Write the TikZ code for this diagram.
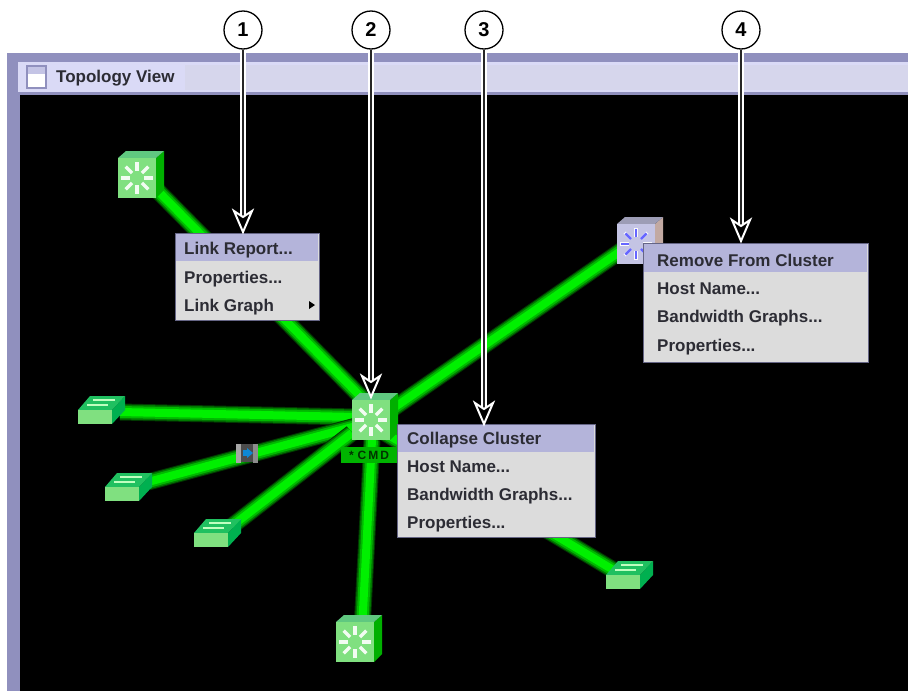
\documentclass[tikz,border=0pt]{standalone}
\usepackage{fontspec}
\setmainfont{Liberation Sans}
\definecolor{frameC}{HTML}{9090BE}
\definecolor{titleC}{HTML}{DADAF6}
\definecolor{ditherC}{HTML}{D6D6EC}
\definecolor{hiC}{HTML}{B4B4DA}
\definecolor{menuC}{HTML}{DCDCDC}
\definecolor{textC}{HTML}{2C2C34}
\definecolor{faceC}{HTML}{80E080}
\definecolor{sideC}{HTML}{00B000}
\definecolor{topC}{HTML}{60C880}
\definecolor{topS}{HTML}{20C060}
\definecolor{sideS}{HTML}{00B050}
\definecolor{linkA}{HTML}{003800}
\definecolor{linkB}{HTML}{007800}
\definecolor{linkD}{HTML}{00B800}
\definecolor{linkC}{HTML}{00F000}
\definecolor{cmdC}{HTML}{00B400}
\definecolor{purpC}{HTML}{C4C4E4}
\tikzset{
  x=1pt,y=-1pt,
  link/.style={line width=8pt,color=linkC,
    preaction={draw,line width=17pt,color=linkA},
    preaction={draw,line width=15pt,color=linkB},
    preaction={draw,line width=12pt,color=linkD}},
  badge/.style={circle,draw=black,line width=1.3pt,fill=white,minimum size=38pt,inner sep=0pt,font=\fontsize{20}{20}\selectfont\bfseries},
  shaftO/.style={line width=6pt,color=white},
  shaftI/.style={line width=2pt,color=black!85},
  tipS/.style={draw=white,fill=black,line width=2pt,line join=miter},
  menubox/.style={fill=menuC,draw=frameC!70!black,line width=.8pt},
  hibar/.style={fill=hiC},
  menuitem/.style={anchor=base west,inner sep=0pt,text=textC,font=\fontsize{17}{17}\selectfont\bfseries},
  pics/bigswitch/.style args={#1/#2/#3}{code={
    \fill[#2] (38,0)--(46,-7)--(46,32)--(38,40)--cycle;
    \fill[#3] (0,0)--(8,-7)--(46,-7)--(38,0)--cycle;
    \fill[#1] (0,0) rectangle (38,40);
    \foreach \a in {0,45,...,315}{
      \draw[white!90!#1,line width=3.5pt] (19,20)++(\a:7)--++(\a:9);}
  }},
  pics/smallswitch/.style={code={
    \fill[sideS] (34,0)--(47,-14)--(47,0)--(34,14)--cycle;
    \fill[topS] (0,0)--(12,-14)--(47,-14)--(34,0)--cycle;
    \fill[faceC] (0,0) rectangle (34,14);
    \draw[white!75!green,line width=1.4pt] (15,-10)--(37,-10) (9,-5)--(30,-5);
  }}
}
\begin{document}
\begin{tikzpicture}
\useasboundingbox (0,0) rectangle (908,691);
\fill[white] (0,0) rectangle (908,691);
% window
\fill[frameC] (7,53) rectangle (908,691);
\fill[titleC] (18,62) rectangle (908,92);
\fill[ditherC] (185,65) rectangle (908,90);
\fill[black] (20,95) rectangle (908,691);
% title
\fill[white] (27,66) rectangle (46,88);
\draw[frameC,line width=1.5pt] (27,66) rectangle (46,88);
\fill[titleC!70!frameC] (28,67) rectangle (45,74);
\node[anchor=base west,inner sep=0pt,text=textC,font=\fontsize{17}{17}\selectfont\bfseries] (title) at (56,82) {Topology View};
% named positions
\coordinate (hubTL) at (362,398);
\coordinate (hubPU) at (385,414);
\coordinate (hubW1) at (356,417);
\coordinate (hubW2) at (356,426);
\coordinate (hubW3) at (352,433);
\coordinate (hubW4) at (380,430);
\coordinate (hubBT) at (372,440);
\coordinate (nodeTL) at (153,186);
\coordinate (nodePU) at (625,248);
\coordinate (nodeW1) at (120,412);
\coordinate (nodeW2) at (148,482);
\coordinate (nodeW3) at (232,526);
\coordinate (nodeW4) at (630,580);
\coordinate (nodeBT) at (362,630);
% links
\draw[link] (nodeTL)--(hubTL);
\draw[link] (nodePU)--(hubPU);
\draw[link] (nodeW1)--(hubW1);
\draw[link] (nodeW2)--(hubW2);
\draw[link] (nodeW3)--(hubW3);
\draw[link] (nodeW4)--(hubW4);
\draw[link] (nodeBT)--(hubBT);
% link interface
\fill[black!70] (241,444) rectangle (254,462);
\fill[black!35] (236,444) rectangle (241,463);
\fill[black!45] (253,444) rectangle (258,463);
\fill[cyan!70!blue] (243,450) rectangle (248,456);
\fill[cyan!70!blue] (247,448)--(253,453)--(247,458)--cycle;
% icons
\pic at (118,158) {bigswitch={faceC/sideC/topC}};
\pic at (352,400) {bigswitch={faceC/sideC/topC}};
\pic at (336,622) {bigswitch={faceC/sideC/topC}};
\pic at (617,224) {bigswitch={purpC/purpC!60!brown/purpC!80!black}};
\foreach \a in {0,45,...,315}{\draw[blue!60!white,line width=2.5pt] (636,244)++(\a:7)--++(\a:8);}
\pic at (78,410) {smallswitch};
\pic at (105,487) {smallswitch};
\pic at (194,533) {smallswitch};
\pic at (606,575) {smallswitch};
% CMD label
\node[fill=cmdC,minimum width=56pt,minimum height=16pt,inner sep=0pt,text=black!80!green,font=\fontsize{12}{12}\selectfont\bfseries] (cmd) at (369,455) {*\,\,C\,M\,D};
% menus
\fill[menubox] (175,233) rectangle (319,320);
\fill[hibar] (176,234) rectangle (318,261);
\node[menuitem] at (184,254) {Link Report...};
\node[menuitem] at (184,283) {Properties...};
\node[menuitem] at (184,311) {Link Graph};
\fill[black] (309,301)--(315,305)--(309,309)--cycle;
\fill[menubox] (397,424) rectangle (595,537);
\fill[hibar] (398,425) rectangle (594,452);
\node[menuitem] at (407,444) {Collapse Cluster};
\node[menuitem] at (407,472) {Host Name...};
\node[menuitem] at (407,500) {Bandwidth Graphs...};
\node[menuitem] at (407,528) {Properties...};
\fill[menubox] (643,243) rectangle (868,362);
\fill[hibar] (644,244) rectangle (867,272);
\node[menuitem] at (657,266) {Remove From Cluster};
\node[menuitem] at (657,294) {Host Name...};
\node[menuitem] at (657,322) {Bandwidth Graphs...};
\node[menuitem] at (657,351) {Properties...};
% callouts
\node[badge] (b1) at (243,30) {1};
\node[badge] (b2) at (371,30) {2};
\node[badge] (b3) at (484,30) {3};
\node[badge] (b4) at (741,30) {4};
\coordinate (t1) at (243,232);
\coordinate (t2) at (371,397);
\coordinate (t3) at (484,424);
\coordinate (t4) at (741,241);
\foreach \b/\t in {b1/t1,b2/t2,b3/t3,b4/t4}{
  \draw[shaftO] (\b.south)--([yshift=12pt]\t);
  \draw[shaftI] (\b.south)--([yshift=12pt]\t);
  \draw[tipS] (\t)--++(-9,-21)--++(9,6)--++(9,-6)--cycle;
}
\end{tikzpicture}
\end{document}
